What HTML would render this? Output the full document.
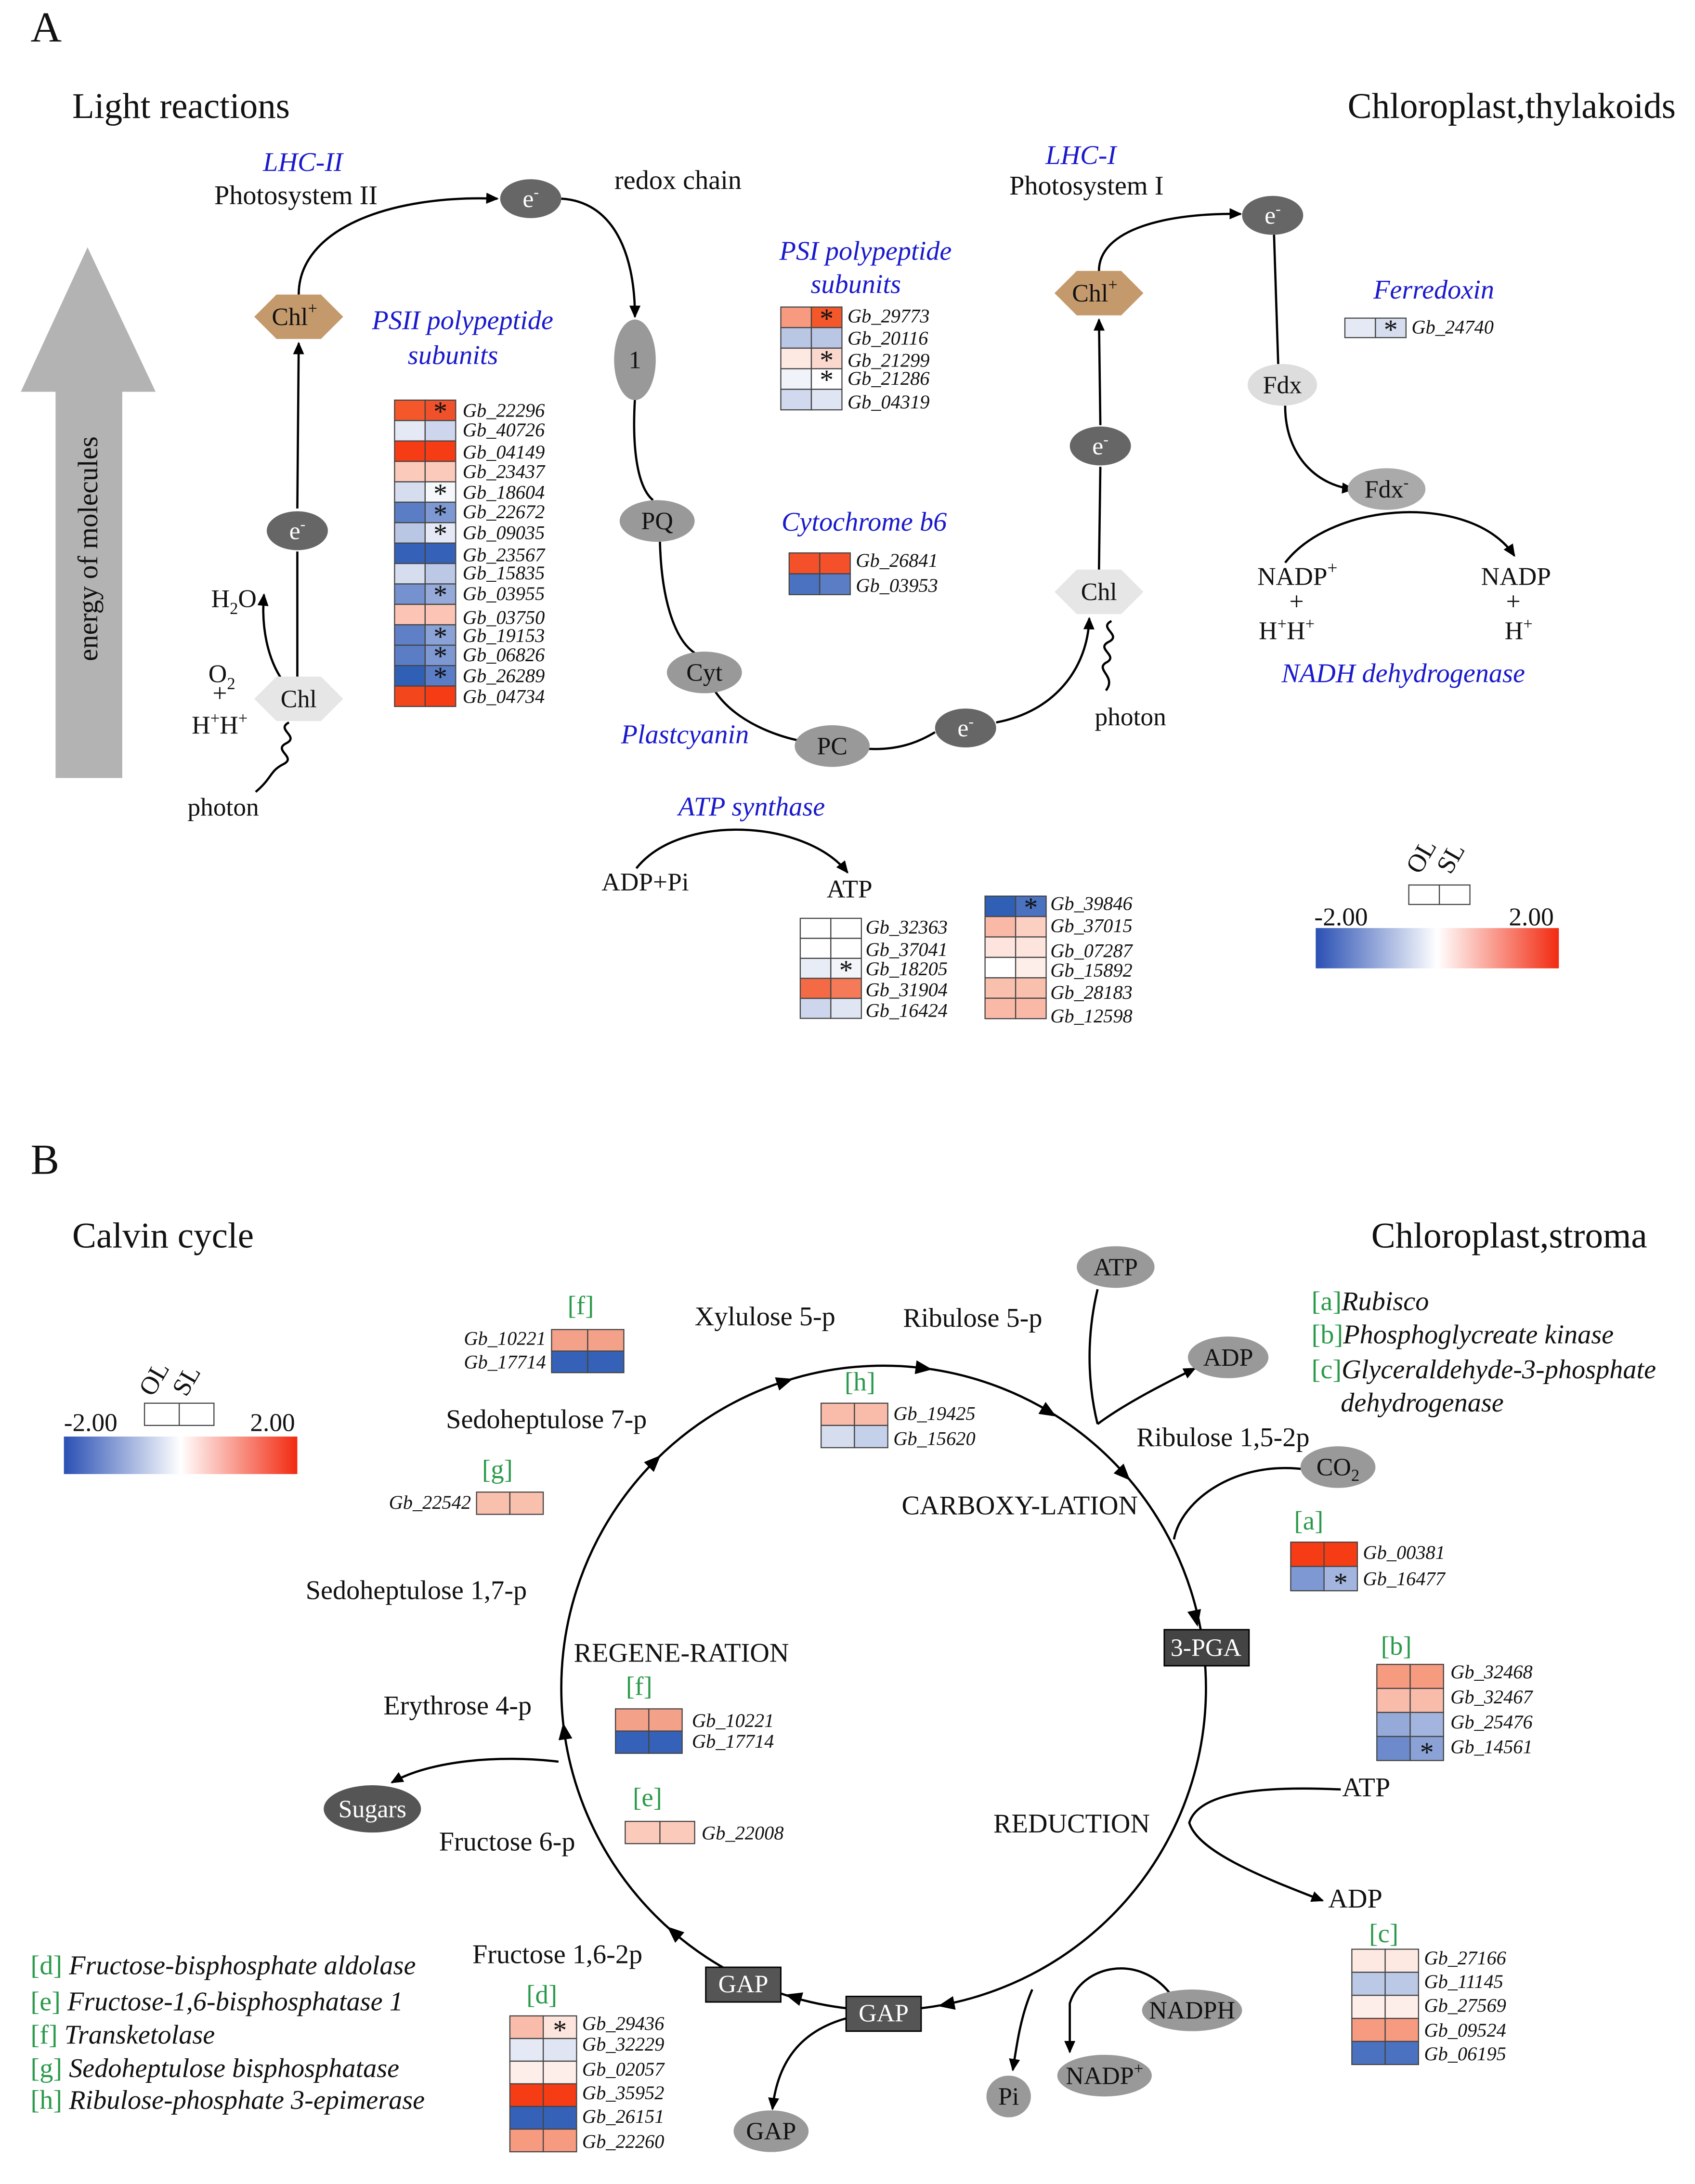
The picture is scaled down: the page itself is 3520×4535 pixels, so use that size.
<!DOCTYPE html>
<html><head><meta charset="utf-8"><style>
html,body{margin:0;padding:0;background:#fff;}
svg{display:block;}
text{font-family:"Liberation Serif",serif;fill:#111;}
.g{font-style:italic;font-size:14px;}
.bl{fill:#1a1acc;font-style:italic;font-size:19.5px;}
.gr{fill:#2a9a4a;font-size:19px;}
</style></head><body>
<svg width="3520" height="4535" viewBox="0 0 1220 1572" preserveAspectRatio="none" xmlns="http://www.w3.org/2000/svg">
<defs>
<marker id="ar" markerWidth="10" markerHeight="10" refX="8" refY="5" orient="auto" markerUnits="userSpaceOnUse"><path d="M0,1 L9,5 L0,9 z" fill="#000"/></marker>
<linearGradient id="grad" x1="0" x2="1" y1="0" y2="0"><stop offset="0" stop-color="#2a50b4"/><stop offset="0.5" stop-color="#fff"/><stop offset="1" stop-color="#f22a10"/></linearGradient>
</defs>
<g fill="none" stroke="#000" stroke-width="1.6">
<path d="M215,212 C215,165 280,140 358,143" marker-end="url(#ar)"/>
<path d="M404,143 C440,145 457,180 457,228" marker-end="url(#ar)"/>
<path d="M457,287 C455,320 458,350 470,360"/>
<path d="M475,390 C476,430 485,460 500,470"/>
<path d="M515,498 C530,520 560,530 575,533"/>
<path d="M625,539 C645,540 660,535 673,527"/>
<path d="M717,520 C760,512 783,480 784,445" marker-end="url(#ar)"/>
<path d="M791,410 L792,336"/>
<path d="M792,306 L791,230" marker-end="url(#ar)"/>
<path d="M791,195 C791,165 840,153 893,154" marker-end="url(#ar)"/>
<path d="M917,169 L920,262"/>
<path d="M925,292 C925,330 950,350 974,352" marker-end="url(#ar)"/>
<path d="M925,405 C960,360 1060,355 1090,400" marker-end="url(#ar)"/>
<path d="M214,488 L214,397"/>
<path d="M214,366 L215,247" marker-end="url(#ar)"/>
<path d="M205,492 C192,475 188,450 190,428" marker-end="url(#ar)"/>
<path d="M208,520 c-10,5 8,10 -2,15 c-10,5 8,10 -2,15 c-10,5 -8,10 -20,20"/>
<path d="M800,447 c-10,5 8,10 -2,15 c-10,5 8,10 -2,15 c-8,5 8,10 0,20"/>
<path d="M458,625 C490,585 580,590 610,628" marker-end="url(#ar)"/>
<circle cx="636" cy="1215" r="232"/>
<path d="M790,928 C780,970 785,1005 790,1025"/>
<path d="M790,1025 C810,1010 840,995 860,985" marker-end="url(#ar)"/>
<path d="M942,1058 C890,1050 850,1080 845,1108"/>
<path d="M965,1288 C900,1285 862,1292 856,1312 C862,1332 905,1350 952,1368" marker-end="url(#ar)"/>
<path d="M843,1436 C820,1405 778,1415 770,1442 L770,1477" marker-end="url(#ar)"/>
<path d="M743,1432 C735,1450 732,1470 729,1490" marker-end="url(#ar)"/>
<path d="M612,1452 C580,1460 560,1480 556,1518" marker-end="url(#ar)"/>
<path d="M402,1268 C360,1263 310,1267 282,1283" marker-end="url(#ar)"/>
</g>
<g fill="#000">
<polygon points="-7,-5 5,0 -7,5" transform="translate(566,994) rotate(-17.7)"/>
<polygon points="-7,-5 5,0 -7,5" transform="translate(666,985) rotate(7.4)"/>
<polygon points="-7,-5 5,0 -7,5" transform="translate(756,1017) rotate(31)"/>
<polygon points="-7,-5 5,0 -7,5" transform="translate(810,1062) rotate(46)"/>
<polygon points="-7,-5 5,0 -7,5" transform="translate(861,1166) rotate(78)"/>
<polygon points="-7,-5 5,0 -7,5" transform="translate(680,1443) rotate(169)"/>
<polygon points="-7,-5 5,0 -7,5" transform="translate(570,1437) rotate(196)"/>
<polygon points="-7,-5 5,0 -7,5" transform="translate(484,1390) rotate(221)"/>
<polygon points="-7,-5 5,0 -7,5" transform="translate(406,1245) rotate(262)"/>
<polygon points="-7,-5 5,0 -7,5" transform="translate(472,1051) rotate(-45)"/>
</g>

<text x="22" y="30" font-size="31">A</text>
<text x="52" y="85" font-size="26">Light reactions</text>
<text x="970" y="85" font-size="26">Chloroplast,thylakoids</text>
<rect x="40" y="280" width="48" height="280" fill="#b3b3b3"/>
<polygon points="15,282 112,282 63,178" fill="#b3b3b3"/>
<text transform="translate(70,395) rotate(-90)" font-size="20" text-anchor="middle">energy of molecules</text>

<text x="218" y="123" class="bl" text-anchor="middle">LHC-II</text>
<text x="213" y="147" font-size="19.5" text-anchor="middle">Photosystem II</text>
<text x="488" y="136" font-size="19.5" text-anchor="middle">redox chain</text>
<text x="333" y="237" class="bl" text-anchor="middle">PSII polypeptide</text>
<text x="326" y="262" class="bl" text-anchor="middle">subunits</text>
<text x="623" y="187" class="bl" text-anchor="middle">PSI polypeptide</text>
<text x="616" y="211" class="bl" text-anchor="middle">subunits</text>
<text x="622" y="382" class="bl" text-anchor="middle">Cytochrome b6</text>
<text x="493" y="535" class="bl" text-anchor="middle">Plastcyanin</text>
<text x="541" y="587" class="bl" text-anchor="middle">ATP synthase</text>
<text x="778" y="118" class="bl" text-anchor="middle">LHC-I</text>
<text x="782" y="140" font-size="19.5" text-anchor="middle">Photosystem I</text>
<text x="1032" y="215" class="bl" text-anchor="middle">Ferredoxin</text>
<text x="1010" y="491" class="bl" text-anchor="middle">NADH dehydrogenase</text>

<g font-size="18" text-anchor="middle">
<ellipse cx="382" cy="143" rx="22" ry="14" fill="#666"/><text x="382" y="149" style="fill:#fff">e<tspan font-size="11" dy="-7">-</tspan></text>
<ellipse cx="214" cy="382" rx="22" ry="14" fill="#666"/><text x="214" y="388" style="fill:#fff">e<tspan font-size="11" dy="-7">-</tspan></text>
<ellipse cx="695" cy="524" rx="22" ry="14" fill="#666"/><text x="695" y="530" style="fill:#fff">e<tspan font-size="11" dy="-7">-</tspan></text>
<ellipse cx="792" cy="321" rx="22" ry="14" fill="#666"/><text x="792" y="327" style="fill:#fff">e<tspan font-size="11" dy="-7">-</tspan></text>
<ellipse cx="916" cy="155" rx="22" ry="14" fill="#666"/><text x="916" y="161" style="fill:#fff">e<tspan font-size="11" dy="-7">-</tspan></text>
<ellipse cx="457" cy="259" rx="15" ry="29" fill="#999"/><text x="457" y="265">1</text>
<ellipse cx="473" cy="375" rx="27" ry="15" fill="#999"/><text x="473" y="381">PQ</text>
<ellipse cx="507" cy="484" rx="27" ry="15" fill="#999"/><text x="507" y="490">Cyt</text>
<ellipse cx="599" cy="537" rx="27" ry="15" fill="#999"/><text x="599" y="543">PC</text>
<ellipse cx="923" cy="277" rx="25" ry="15" fill="#ddd"/><text x="923" y="283">Fdx</text>
<ellipse cx="998" cy="352" rx="28" ry="15" fill="#aaa"/><text x="998" y="358">Fdx<tspan font-size="11" dy="-7">-</tspan></text>
<polygon points="183,228 199,212 231,212 247,228 231,244 199,244" fill="#c49a6c"/><text x="212" y="234">Chl<tspan font-size="12" dy="-8">+</tspan></text>
<polygon points="759,211 775,195 807,195 823,211 807,227 775,227" fill="#c49a6c"/><text x="788" y="217">Chl<tspan font-size="12" dy="-8">+</tspan></text>
<polygon points="183,503 199,487 231,487 247,503 231,519 199,519" fill="#e6e6e6"/><text x="215" y="509">Chl</text>
<polygon points="759,426 775,410 807,410 823,426 807,442 775,442" fill="#e6e6e6"/><text x="791" y="432">Chl</text>
</g>
<g font-size="18.5">
<text x="152" y="437">H<tspan font-size="12" dy="5">2</tspan><tspan dy="-5">O</tspan></text>
<text x="150" y="491">O<tspan font-size="12" dy="5">2</tspan></text>
<text x="153" y="505">+</text>
<text x="138" y="528">H<tspan font-size="12" dy="-7">+</tspan><tspan dy="7">H</tspan><tspan font-size="12" dy="-7">+</tspan></text>
<text x="135" y="587">photon</text>
<text x="788" y="522">photon</text>
<text x="905" y="421">NADP<tspan font-size="13" dy="-8">+</tspan></text>
<text x="928" y="439">+</text>
<text x="906" y="460">H<tspan font-size="12" dy="-7">+</tspan><tspan dy="7">H</tspan><tspan font-size="12" dy="-7">+</tspan></text>
<text x="1066" y="421">NADP</text>
<text x="1084" y="439">+</text>
<text x="1083" y="460">H<tspan font-size="12" dy="-7">+</tspan></text>
<text x="433" y="641">ADP+Pi</text>
<text x="595" y="646">ATP</text>
</g>

<g stroke="#444" stroke-width="0.8">
<rect x="284" y="288" width="22" height="14.7" fill="#f4582a"/><rect x="306" y="288" width="22" height="14.7" fill="#f0502a"/>
<rect x="284" y="302.7" width="22" height="14.7" fill="#e4e9f5"/><rect x="306" y="302.7" width="22" height="14.7" fill="#cdd6ec"/>
<rect x="284" y="317.4" width="22" height="14.7" fill="#f53c15"/><rect x="306" y="317.4" width="22" height="14.7" fill="#f53c15"/>
<rect x="284" y="332.1" width="22" height="14.7" fill="#fbcabb"/><rect x="306" y="332.1" width="22" height="14.7" fill="#fbcabb"/>
<rect x="284" y="346.8" width="22" height="14.7" fill="#d5ddef"/><rect x="306" y="346.8" width="22" height="14.7" fill="#f5f7fb"/>
<rect x="284" y="361.5" width="22" height="14.7" fill="#5a7dc6"/><rect x="306" y="361.5" width="22" height="14.7" fill="#7d98d2"/>
<rect x="284" y="376.2" width="22" height="14.7" fill="#b9c7e5"/><rect x="306" y="376.2" width="22" height="14.7" fill="#e4e9f5"/>
<rect x="284" y="390.9" width="22" height="14.7" fill="#3562b8"/><rect x="306" y="390.9" width="22" height="14.7" fill="#3562b8"/>
<rect x="284" y="405.6" width="22" height="14.7" fill="#d5ddef"/><rect x="306" y="405.6" width="22" height="14.7" fill="#bcc9e6"/>
<rect x="284" y="420.3" width="22" height="14.7" fill="#7591cf"/><rect x="306" y="420.3" width="22" height="14.7" fill="#95aad9"/>
<rect x="284" y="435" width="22" height="14.7" fill="#fbc4b4"/><rect x="306" y="435" width="22" height="14.7" fill="#fbc4b4"/>
<rect x="284" y="449.7" width="22" height="14.7" fill="#5f80c7"/><rect x="306" y="449.7" width="22" height="14.7" fill="#8aa2d6"/>
<rect x="284" y="464.4" width="22" height="14.7" fill="#5a7dc6"/><rect x="306" y="464.4" width="22" height="14.7" fill="#7d98d2"/>
<rect x="284" y="479.1" width="22" height="14.7" fill="#3060b6"/><rect x="306" y="479.1" width="22" height="14.7" fill="#5a7dc6"/>
<rect x="284" y="493.8" width="22" height="14.7" fill="#f4461c"/><rect x="306" y="493.8" width="22" height="14.7" fill="#f53c15"/>
<rect x="562" y="221" width="22" height="14.8" fill="#f79a80"/><rect x="584" y="221" width="22" height="14.8" fill="#f4582a"/>
<rect x="562" y="235.8" width="22" height="14.8" fill="#b9c7e5"/><rect x="584" y="235.8" width="22" height="14.8" fill="#b9c7e5"/>
<rect x="562" y="250.6" width="22" height="14.8" fill="#fde9e2"/><rect x="584" y="250.6" width="22" height="14.8" fill="#fbd8cd"/>
<rect x="562" y="265.4" width="22" height="14.8" fill="#f0f3fa"/><rect x="584" y="265.4" width="22" height="14.8" fill="#fff"/>
<rect x="562" y="280.2" width="22" height="14.8" fill="#d0d9ee"/><rect x="584" y="280.2" width="22" height="14.8" fill="#dfe5f3"/>
<rect x="568" y="398" width="22" height="15" fill="#f4502a"/><rect x="590" y="398" width="22" height="15" fill="#f4502a"/>
<rect x="568" y="413" width="22" height="15" fill="#4a72c0"/><rect x="590" y="413" width="22" height="15" fill="#5a7dc6"/>
<rect x="968" y="229" width="22" height="14" fill="#e4e9f5"/><rect x="990" y="229" width="22" height="14" fill="#d5ddef"/>
<rect x="576" y="661" width="22" height="14.4" fill="#fff"/><rect x="598" y="661" width="22" height="14.4" fill="#fff"/>
<rect x="576" y="675.4" width="22" height="14.4" fill="#fff"/><rect x="598" y="675.4" width="22" height="14.4" fill="#fff"/>
<rect x="576" y="689.8" width="22" height="14.4" fill="#e8ecf6"/><rect x="598" y="689.8" width="22" height="14.4" fill="#f2f4fa"/>
<rect x="576" y="704.2" width="22" height="14.4" fill="#f46a45"/><rect x="598" y="704.2" width="22" height="14.4" fill="#f47a58"/>
<rect x="576" y="718.6" width="22" height="14.4" fill="#cdd6ec"/><rect x="598" y="718.6" width="22" height="14.4" fill="#dfe5f3"/>
<rect x="709" y="645" width="22" height="14.7" fill="#3060b6"/><rect x="731" y="645" width="22" height="14.7" fill="#4a72c0"/>
<rect x="709" y="659.7" width="22" height="14.7" fill="#f9b9a6"/><rect x="731" y="659.7" width="22" height="14.7" fill="#fbd0c3"/>
<rect x="709" y="674.4" width="22" height="14.7" fill="#fde5dd"/><rect x="731" y="674.4" width="22" height="14.7" fill="#fde5dd"/>
<rect x="709" y="689.1" width="22" height="14.7" fill="#fff"/><rect x="731" y="689.1" width="22" height="14.7" fill="#fdeee9"/>
<rect x="709" y="703.8" width="22" height="14.7" fill="#f9c0ae"/><rect x="731" y="703.8" width="22" height="14.7" fill="#f9c0ae"/>
<rect x="709" y="718.5" width="22" height="14.7" fill="#f9b9a6"/><rect x="731" y="718.5" width="22" height="14.7" fill="#f9b9a6"/>
<rect x="1014" y="637" width="22" height="14" fill="#fff"/><rect x="1036" y="637" width="22" height="14" fill="#fff"/>
</g>
<rect x="947" y="668" width="175" height="29" fill="url(#grad)"/>
<g font-size="18.5">
<text x="946" y="666">-2.00</text><text x="1086" y="666">2.00</text>
<text transform="translate(1022,630) rotate(-60)">OL</text>
<text transform="translate(1044,630) rotate(-60)">SL</text>
</g>
<g font-size="20" text-anchor="middle">
<text x="317" y="303">*</text><text x="317" y="362">*</text><text x="317" y="377">*</text><text x="317" y="391">*</text><text x="317" y="435">*</text><text x="317" y="465">*</text><text x="317" y="479">*</text><text x="317" y="494">*</text>
<text x="595" y="236">*</text><text x="595" y="266">*</text><text x="595" y="280">*</text>
<text x="1001" y="244">*</text><text x="609" y="705">*</text><text x="742" y="660">*</text>
</g>
<g>
<text x="333" y="300" class="g">Gb_22296</text><text x="333" y="314" class="g">Gb_40726</text><text x="333" y="330" class="g">Gb_04149</text><text x="333" y="344" class="g">Gb_23437</text><text x="333" y="359" class="g">Gb_18604</text><text x="333" y="373" class="g">Gb_22672</text><text x="333" y="388" class="g">Gb_09035</text><text x="333" y="404" class="g">Gb_23567</text><text x="333" y="417" class="g">Gb_15835</text><text x="333" y="432" class="g">Gb_03955</text><text x="333" y="449" class="g">Gb_03750</text><text x="333" y="462" class="g">Gb_19153</text><text x="333" y="476" class="g">Gb_06826</text><text x="333" y="491" class="g">Gb_26289</text><text x="333" y="506" class="g">Gb_04734</text>
<text x="610" y="232" class="g">Gb_29773</text><text x="610" y="248" class="g">Gb_20116</text><text x="610" y="264" class="g">Gb_21299</text><text x="610" y="277" class="g">Gb_21286</text><text x="610" y="294" class="g">Gb_04319</text>
<text x="616" y="408" class="g">Gb_26841</text><text x="616" y="426" class="g">Gb_03953</text>
<text x="1016" y="240" class="g">Gb_24740</text>
<text x="623" y="672" class="g">Gb_32363</text><text x="623" y="688" class="g">Gb_37041</text><text x="623" y="702" class="g">Gb_18205</text><text x="623" y="717" class="g">Gb_31904</text><text x="623" y="732" class="g">Gb_16424</text>
<text x="756" y="655" class="g">Gb_39846</text><text x="756" y="671" class="g">Gb_37015</text><text x="756" y="689" class="g">Gb_07287</text><text x="756" y="703" class="g">Gb_15892</text><text x="756" y="719" class="g">Gb_28183</text><text x="756" y="736" class="g">Gb_12598</text>
</g>

<text x="22" y="845" font-size="31">B</text>
<text x="52" y="898" font-size="26">Calvin cycle</text>
<text x="987" y="898" font-size="26">Chloroplast,stroma</text>
<g font-size="19.5">
<text x="500" y="954">Xylulose 5-p</text><text x="650" y="955">Ribulose 5-p</text><text x="818" y="1041">Ribulose 1,5-2p</text>
<text x="649" y="1090">CARBOXY-LATION</text><text x="321" y="1028">Sedoheptulose 7-p</text><text x="220" y="1151">Sedoheptulose 1,7-p</text>
<text x="413" y="1196">REGENE-RATION</text><text x="276" y="1234">Erythrose 4-p</text><text x="316" y="1332">Fructose 6-p</text>
<text x="715" y="1319">REDUCTION</text><text x="966" y="1293">ATP</text><text x="956" y="1373">ADP</text><text x="340" y="1413">Fructose 1,6-2p</text>
</g>
<g font-size="19.5">
<text x="944" y="943"><tspan style="fill:#2a9a4a">[a]</tspan><tspan font-style="italic">Rubisco</tspan></text>
<text x="944" y="967"><tspan style="fill:#2a9a4a">[b]</tspan><tspan font-style="italic">Phosphoglycreate kinase</tspan></text>
<text x="944" y="992"><tspan style="fill:#2a9a4a">[c]</tspan><tspan font-style="italic">Glyceraldehyde-3-phosphate</tspan></text>
<text x="965" y="1016" font-style="italic">dehydrogenase</text>
<text x="22" y="1421"><tspan style="fill:#2a9a4a">[d]</tspan><tspan font-style="italic"> Fructose-bisphosphate aldolase</tspan></text>
<text x="22" y="1447"><tspan style="fill:#2a9a4a">[e]</tspan><tspan font-style="italic"> Fructose-1,6-bisphosphatase 1</tspan></text>
<text x="22" y="1471"><tspan style="fill:#2a9a4a">[f]</tspan><tspan font-style="italic"> Transketolase</tspan></text>
<text x="22" y="1495"><tspan style="fill:#2a9a4a">[g]</tspan><tspan font-style="italic"> Sedoheptulose bisphosphatase</tspan></text>
<text x="22" y="1518"><tspan style="fill:#2a9a4a">[h]</tspan><tspan font-style="italic"> Ribulose-phosphate 3-epimerase</tspan></text>
</g>
<g>
<text x="418" y="946" class="gr" text-anchor="middle">[f]</text>
<text x="619" y="1001" class="gr" text-anchor="middle">[h]</text>
<text x="358" y="1064" class="gr" text-anchor="middle">[g]</text>
<text x="942" y="1101" class="gr" text-anchor="middle">[a]</text>
<text x="1005" y="1191" class="gr" text-anchor="middle">[b]</text>
<text x="460" y="1220" class="gr" text-anchor="middle">[f]</text>
<text x="466" y="1300" class="gr" text-anchor="middle">[e]</text>
<text x="996" y="1398" class="gr" text-anchor="middle">[c]</text>
<text x="390" y="1442" class="gr" text-anchor="middle">[d]</text>
</g>

<g font-size="18" text-anchor="middle">
<ellipse cx="803" cy="912" rx="28" ry="15" fill="#999"/><text x="803" y="918">ATP</text>
<ellipse cx="884" cy="977" rx="29" ry="15" fill="#999"/><text x="884" y="983">ADP</text>
<ellipse cx="963" cy="1056" rx="27" ry="15" fill="#999"/><text x="963" y="1062">CO<tspan font-size="12" dy="4">2</tspan></text>
<rect x="838" y="1173" width="61" height="26" fill="#444" stroke="#000"/><text x="868" y="1192" style="fill:#fff">3-PGA</text>
<rect x="508" y="1416" width="54" height="25" fill="#555" stroke="#000"/><text x="535" y="1434" style="fill:#fff">GAP</text>
<rect x="609" y="1437" width="54" height="25" fill="#555" stroke="#000"/><text x="636" y="1455" style="fill:#fff">GAP</text>
<ellipse cx="268" cy="1302" rx="35" ry="17" fill="#555"/><text x="268" y="1308" style="fill:#fff">Sugars</text>
<ellipse cx="555" cy="1534" rx="27" ry="15" fill="#999"/><text x="555" y="1540">GAP</text>
<ellipse cx="726" cy="1509" rx="16" ry="15" fill="#999"/><text x="726" y="1515">Pi</text>
<ellipse cx="795" cy="1494" rx="34" ry="15" fill="#999"/><text x="795" y="1500">NADP<tspan font-size="12" dy="-7">+</tspan></text>
<ellipse cx="858" cy="1447" rx="36" ry="15" fill="#999"/><text x="858" y="1453">NADPH</text>
</g>

<g stroke="#444" stroke-width="0.8">
<rect x="397" y="957" width="26" height="15.5" fill="#f4a18a"/><rect x="423" y="957" width="26" height="15.5" fill="#f4a18a"/>
<rect x="397" y="972.5" width="26" height="15.5" fill="#3562b8"/><rect x="423" y="972.5" width="26" height="15.5" fill="#3562b8"/>
<rect x="591" y="1010" width="24" height="16" fill="#f9bcaa"/><rect x="615" y="1010" width="24" height="16" fill="#f9bcaa"/>
<rect x="591" y="1026" width="24" height="16" fill="#d5ddef"/><rect x="615" y="1026" width="24" height="16" fill="#c5d0ea"/>
<rect x="343" y="1074" width="24" height="16" fill="#f9c0ae"/><rect x="367" y="1074" width="24" height="16" fill="#f9c0ae"/>
<rect x="929" y="1110" width="24" height="17.5" fill="#f53c15"/><rect x="953" y="1110" width="24" height="17.5" fill="#f53c15"/>
<rect x="929" y="1127.5" width="24" height="17.5" fill="#7d98d2"/><rect x="953" y="1127.5" width="24" height="17.5" fill="#a3b5de"/>
<rect x="991" y="1198" width="24" height="17.3" fill="#f69a80"/><rect x="1015" y="1198" width="24" height="17.3" fill="#f69a80"/>
<rect x="991" y="1215.3" width="24" height="17.3" fill="#f9bcaa"/><rect x="1015" y="1215.3" width="24" height="17.3" fill="#f9bcaa"/>
<rect x="991" y="1232.6" width="24" height="17.3" fill="#95aad9"/><rect x="1015" y="1232.6" width="24" height="17.3" fill="#a3b5de"/>
<rect x="991" y="1249.9" width="24" height="17.3" fill="#6c8acc"/><rect x="1015" y="1249.9" width="24" height="17.3" fill="#8aa2d6"/>
<rect x="443" y="1230" width="24" height="16" fill="#f4a18a"/><rect x="467" y="1230" width="24" height="16" fill="#f4a18a"/>
<rect x="443" y="1246" width="24" height="16" fill="#3562b8"/><rect x="467" y="1246" width="24" height="16" fill="#3562b8"/>
<rect x="450" y="1311" width="25" height="16" fill="#fbcabb"/><rect x="475" y="1311" width="25" height="16" fill="#fbcabb"/>
<rect x="973" y="1403" width="24" height="16.6" fill="#fde9e2"/><rect x="997" y="1403" width="24" height="16.6" fill="#fde9e2"/>
<rect x="973" y="1419.6" width="24" height="16.6" fill="#bcc9e6"/><rect x="997" y="1419.6" width="24" height="16.6" fill="#bcc9e6"/>
<rect x="973" y="1436.2" width="24" height="16.6" fill="#fdeee9"/><rect x="997" y="1436.2" width="24" height="16.6" fill="#fdeee9"/>
<rect x="973" y="1452.8" width="24" height="16.6" fill="#f69a80"/><rect x="997" y="1452.8" width="24" height="16.6" fill="#f69a80"/>
<rect x="973" y="1469.4" width="24" height="16.6" fill="#4a72c0"/><rect x="997" y="1469.4" width="24" height="16.6" fill="#4a72c0"/>
<rect x="367" y="1451" width="24" height="16.3" fill="#f9bcaa"/><rect x="391" y="1451" width="24" height="16.3" fill="#fde5dd"/>
<rect x="367" y="1467.3" width="24" height="16.3" fill="#e4e9f5"/><rect x="391" y="1467.3" width="24" height="16.3" fill="#dfe5f3"/>
<rect x="367" y="1483.6" width="24" height="16.3" fill="#fdeee9"/><rect x="391" y="1483.6" width="24" height="16.3" fill="#fdeee9"/>
<rect x="367" y="1499.9" width="24" height="16.3" fill="#f53c15"/><rect x="391" y="1499.9" width="24" height="16.3" fill="#f53c15"/>
<rect x="367" y="1516.2" width="24" height="16.3" fill="#3562b8"/><rect x="391" y="1516.2" width="24" height="16.3" fill="#3562b8"/>
<rect x="367" y="1532.5" width="24" height="16.3" fill="#f69a80"/><rect x="391" y="1532.5" width="24" height="16.3" fill="#f69a80"/>
<rect x="104" y="1010" width="25" height="16" fill="#fff"/><rect x="129" y="1010" width="25" height="16" fill="#fff"/>
</g>
<rect x="46" y="1034" width="168" height="27" fill="url(#grad)"/>
<g font-size="18.5">
<text x="46" y="1030">-2.00</text><text x="180" y="1030">2.00</text>
<text transform="translate(110,1006) rotate(-60)">OL</text>
<text transform="translate(134,1006) rotate(-60)">SL</text>
</g>
<g font-size="20" text-anchor="middle">
<text x="965" y="1146">*</text><text x="1027" y="1268">*</text><text x="403" y="1468">*</text>
</g>
<g>
<text x="393" y="968" class="g" text-anchor="end">Gb_10221</text><text x="393" y="985" class="g" text-anchor="end">Gb_17714</text>
<text x="643" y="1022" class="g">Gb_19425</text><text x="643" y="1040" class="g">Gb_15620</text>
<text x="339" y="1086" class="g" text-anchor="end">Gb_22542</text>
<text x="981" y="1122" class="g">Gb_00381</text><text x="981" y="1141" class="g">Gb_16477</text>
<text x="1044" y="1208" class="g">Gb_32468</text><text x="1044" y="1226" class="g">Gb_32467</text><text x="1044" y="1244" class="g">Gb_25476</text><text x="1044" y="1262" class="g">Gb_14561</text>
<text x="498" y="1243" class="g">Gb_10221</text><text x="498" y="1258" class="g">Gb_17714</text>
<text x="505" y="1324" class="g">Gb_22008</text>
<text x="1025" y="1414" class="g">Gb_27166</text><text x="1025" y="1431" class="g">Gb_11145</text><text x="1025" y="1448" class="g">Gb_27569</text><text x="1025" y="1466" class="g">Gb_09524</text><text x="1025" y="1483" class="g">Gb_06195</text>
<text x="419" y="1461" class="g">Gb_29436</text><text x="419" y="1476" class="g">Gb_32229</text><text x="419" y="1494" class="g">Gb_02057</text><text x="419" y="1511" class="g">Gb_35952</text><text x="419" y="1528" class="g">Gb_26151</text><text x="419" y="1546" class="g">Gb_22260</text>
</g>
</svg>
</body></html>
